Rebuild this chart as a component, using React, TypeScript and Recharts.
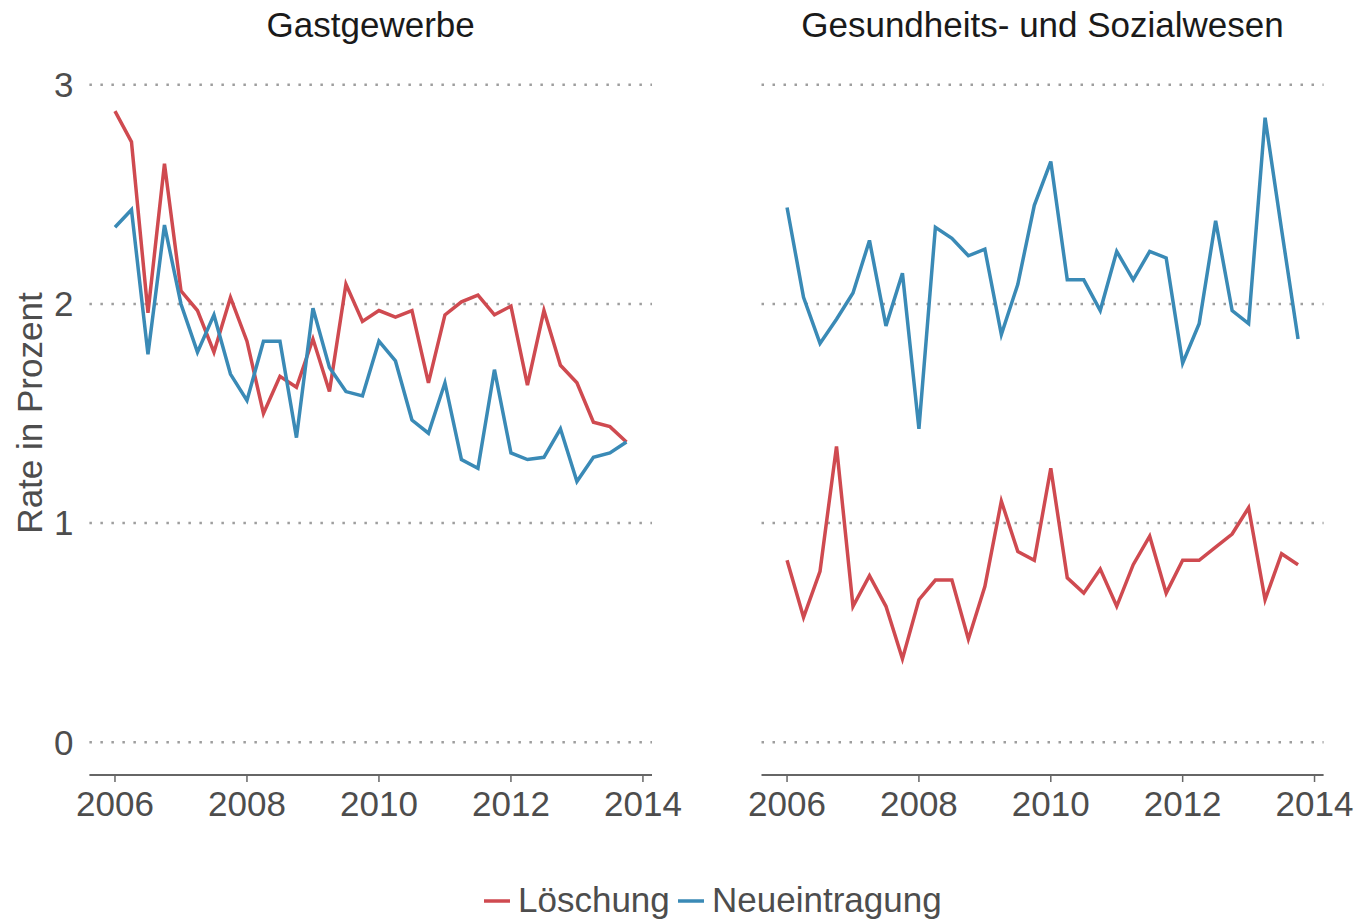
import { CartesianGrid, Line, LineChart, XAxis, YAxis } from 'recharts';

// quarters 2006 Q1 .. 2013 Q4
const quarters = [
  2006, 2006.25, 2006.5, 2006.75, 2007, 2007.25, 2007.5, 2007.75,
  2008, 2008.25, 2008.5, 2008.75, 2009, 2009.25, 2009.5, 2009.75,
  2010, 2010.25, 2010.5, 2010.75, 2011, 2011.25, 2011.5, 2011.75,
  2012, 2012.25, 2012.5, 2012.75, 2013, 2013.25, 2013.5, 2013.75,
];

const gastLoeschung = [
  2.88, 2.74, 1.96, 2.64, 2.06, 1.97, 1.78, 2.03, 1.83, 1.5, 1.67, 1.62, 1.84, 1.6, 2.09, 1.92,
  1.97, 1.94, 1.97, 1.64, 1.95, 2.01, 2.04, 1.95, 1.99, 1.63, 1.97, 1.72, 1.64, 1.46, 1.44, 1.37,
];
const gastNeu = [
  2.35, 2.43, 1.77, 2.36, 2.0, 1.78, 1.95, 1.68, 1.56, 1.83, 1.83, 1.39, 1.98, 1.71, 1.6, 1.58,
  1.83, 1.74, 1.47, 1.41, 1.64, 1.29, 1.25, 1.7, 1.32, 1.29, 1.3, 1.43, 1.19, 1.3, 1.32, 1.37,
];
const gesLoeschung = [
  0.83, 0.57, 0.78, 1.35, 0.62, 0.76, 0.62, 0.38, 0.65, 0.74, 0.74, 0.47, 0.71, 1.1, 0.87, 0.83,
  1.25, 0.75, 0.68, 0.79, 0.62, 0.81, 0.94, 0.68, 0.83, 0.83, 0.89, 0.95, 1.07, 0.65, 0.86, 0.81,
];
const gesNeu = [
  2.44, 2.03, 1.82, 1.93, 2.05, 2.29, 1.9, 2.14, 1.43, 2.35, 2.3, 2.22, 2.25, 1.86, 2.09, 2.45,
  2.65, 2.11, 2.11, 1.97, 2.24, 2.11, 2.24, 2.21, 1.73, 1.91, 2.38, 1.97, 1.91, 2.85, 2.34, 1.84,
];

const xTicks = [2006, 2008, 2010, 2012, 2014];
const yTicks = [0, 1, 2, 3];

const RED = '#cf4a50';
const BLUE = '#3a8ab6';
const FONT = 'Arial, "Liberation Sans", Helvetica, sans-serif';
const TICK = { fontSize: 35, fill: '#4d4d4d', fontFamily: FONT };

const gastData = quarters.map((q, i) => ({ q, loesch: gastLoeschung[i], neu: gastNeu[i] }));
const gesData = quarters.map((q, i) => ({ q, loesch: gesLoeschung[i], neu: gesNeu[i] }));

function Panel({
  data,
  width,
  left,
  margin,
  showY,
}: {
  data: { q: number; loesch: number; neu: number }[];
  width: number;
  left: number;
  margin: { top: number; right: number; bottom: number; left: number };
  showY: boolean;
}) {
  return (
    <div style={{ position: 'absolute', left, top: 0 }}>
      <LineChart width={width} height={860} data={data} margin={margin}>
        <CartesianGrid
          horizontal
          vertical={false}
          syncWithTicks
          stroke="#9e9e9e"
          strokeWidth={2.5}
          strokeDasharray="2.5 8.5"
        />
        <XAxis
          type="number"
          dataKey="q"
          domain={[2005.6125, 2014.1375]}
          ticks={xTicks}
          allowDataOverflow
          height={60}
          tick={TICK}
          tickSize={7}
          tickMargin={9}
          axisLine={{ stroke: '#666', strokeWidth: 2 }}
          tickLine={{ stroke: '#666', strokeWidth: 1.5 }}
        />
        <YAxis
          type="number"
          domain={[-0.15, 3.15]}
          ticks={yTicks}
          allowDataOverflow
          hide={!showY}
          width={40}
          tick={TICK}
          tickSize={6}
          tickMargin={10}
          axisLine={false}
          tickLine={false}
        />
        <Line
          type="linear"
          dataKey="loesch"
          stroke={RED}
          strokeWidth={3.5}
          dot={false}
          isAnimationActive={false}
        />
        <Line
          type="linear"
          dataKey="neu"
          stroke={BLUE}
          strokeWidth={3.5}
          dot={false}
          isAnimationActive={false}
        />
      </LineChart>
    </div>
  );
}

export default function App() {
  return (
    <div
      style={{
        position: 'absolute',
        left: 0,
        top: 0,
        width: 1356,
        height: 920,
        background: '#fff',
        fontFamily: FONT,
      }}
    >
      <Panel
        data={gastData}
        width={700}
        left={0}
        margin={{ top: 52, right: 48, bottom: 25, left: 49.4 }}
        showY
      />
      <Panel
        data={gesData}
        width={656}
        left={700}
        margin={{ top: 52, right: 32.4, bottom: 25, left: 61.5 }}
        showY={false}
      />
      <svg
        width={1356}
        height={920}
        style={{ position: 'absolute', left: 0, top: 0, pointerEvents: 'none' }}
      >
        <text x={370.7} y={37} textAnchor="middle" fontSize={35} fill="#1a1a1a" fontFamily={FONT}>
          Gastgewerbe
        </text>
        <text x={1042.5} y={37} textAnchor="middle" fontSize={35} fill="#1a1a1a" fontFamily={FONT}>
          Gesundheits- und Sozialwesen
        </text>
        <text
          x={42}
          y={413}
          textAnchor="middle"
          fontSize={35}
          fill="#4d4d4d"
          fontFamily={FONT}
          transform="rotate(-90, 42, 413)"
        >
          Rate in Prozent
        </text>
        <line x1={484} x2={510} y1={901} y2={901} stroke={RED} strokeWidth={3.5} />
        <text x={518} y={912} fontSize={35} fill="#4d4d4d" fontFamily={FONT}>
          Löschung
        </text>
        <line x1={678} x2={704} y1={901} y2={901} stroke={BLUE} strokeWidth={3.5} />
        <text x={712} y={912} fontSize={35} fill="#4d4d4d" fontFamily={FONT}>
          Neueintragung
        </text>
      </svg>
    </div>
  );
}
